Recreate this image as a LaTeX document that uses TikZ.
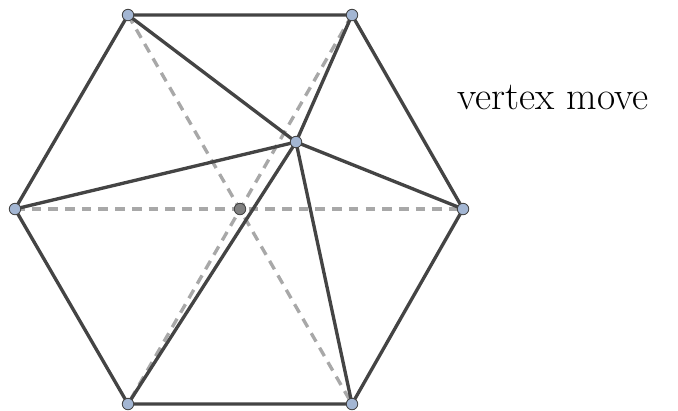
\documentclass[tikz,border=0pt]{standalone}
\usepackage{tikz}
\usetikzlibrary{positioning}
\definecolor{edgegray}{HTML}{444444}
\definecolor{dashgray}{HTML}{A8A8A8}
\definecolor{vtxblue}{HTML}{A3B6D3}
\definecolor{ctrgray}{HTML}{808080}
\tikzset{
  edge/.style={draw=edgegray,line width=1.9pt},
  olddiag/.style={draw=dashgray,line width=1.9pt,dash pattern=on 5.5pt off 4pt},
  vtx/.style={circle,draw=edgegray,fill=vtxblue,line width=0.5pt,inner sep=0pt,minimum size=0.23cm},
  ctr/.style={circle,draw=edgegray,fill=ctrgray,line width=0.5pt,inner sep=0pt,minimum size=0.23cm}
}
\begin{document}
\begin{tikzpicture}[x=0.02cm,y=-0.02cm]
  \useasboundingbox (0,0) rectangle (678,410);
  % hexagon corners and the moved vertex
  \coordinate (h1) at (128,15);
  \coordinate (h2) at (352,15);
  \coordinate (h3) at (463,209);
  \coordinate (h4) at (352,404);
  \coordinate (h5) at (128,404);
  \coordinate (h6) at (15,209);
  \coordinate (c) at (240,209);
  \coordinate (v) at (296,142);
  % old triangulation
  \draw[olddiag] (h1) -- (h4);
  \draw[olddiag] (h2) -- (h5);
  \draw[olddiag] (h6) -- (h3);
  % new triangulation
  \draw[edge] (h1) -- (h2) -- (h3) -- (h4) -- (h5) -- (h6) -- cycle;
  \foreach \i in {1,...,6}
    \draw[edge] (v) -- (h\i);
  % points
  \foreach \i in {1,...,6}
    \node[vtx] (p\i) at (h\i) {};
  \node[ctr] (pc) at (c) {};
  \node[vtx] (pv) at (v) {};
  \node[font=\fontsize{22.5}{27}\selectfont] (lbl) at (553,97) {vertex move};
\end{tikzpicture}
\end{document}
